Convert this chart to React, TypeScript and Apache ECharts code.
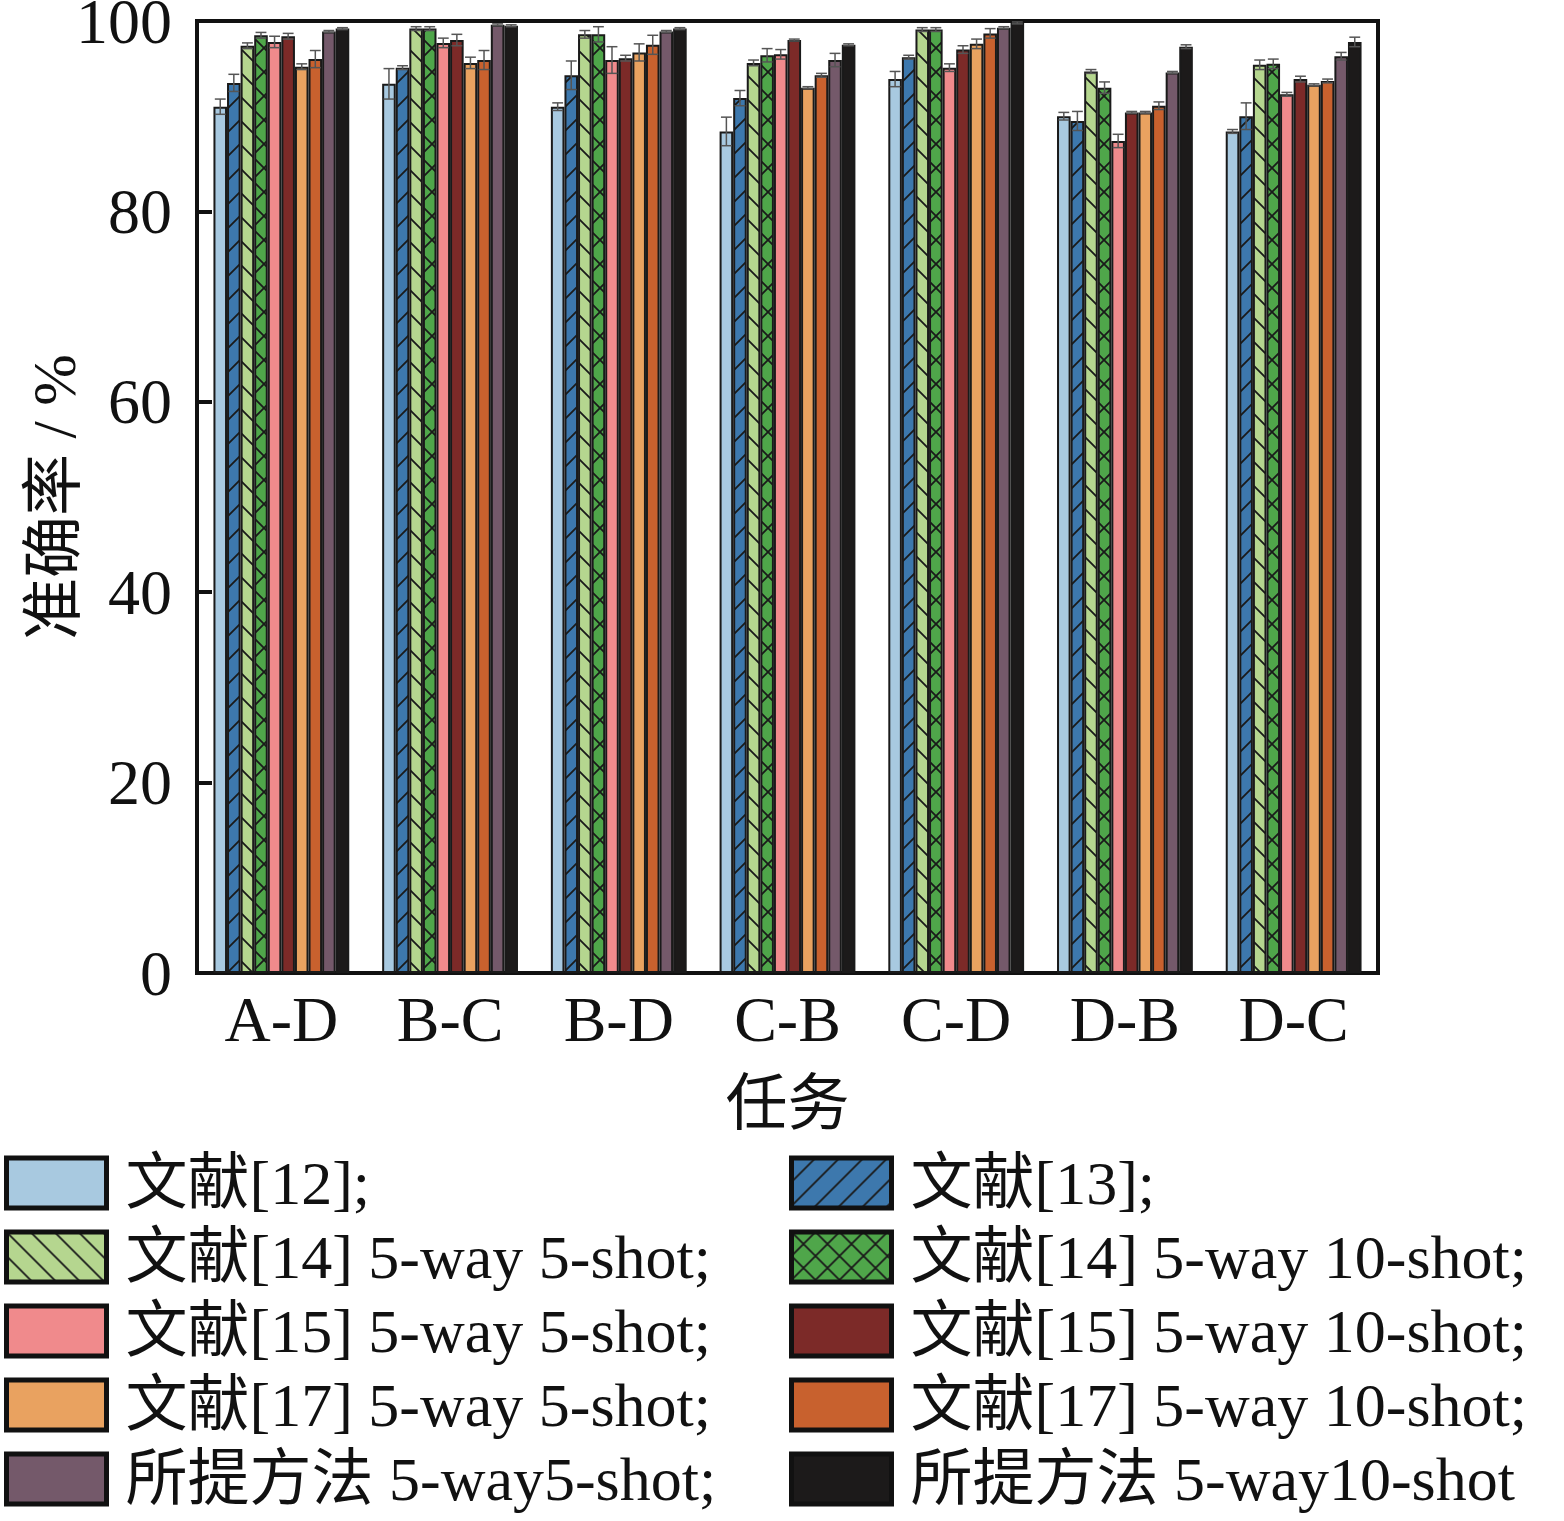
import React, { useEffect, useRef } from "react";
import * as echarts from "echarts";

const categories = ["A-D", "B-C", "B-D", "C-B", "C-D", "D-B", "D-C"];

const seriesNames = [
  "文献[12];",
  "文献[13];",
  "文献[14] 5-way 5-shot;",
  "文献[14] 5-way 10-shot;",
  "文献[15] 5-way 5-shot;",
  "文献[15] 5-way 10-shot;",
  "文献[17] 5-way 5-shot;",
  "文献[17] 5-way 10-shot;",
  "所提方法 5-way5-shot;",
  "所提方法 5-way10-shot",
];

const ref12 = [91.0, 93.4, 91.0, 88.4, 93.9, 90.0, 88.4];
const ref13 = [93.5, 95.1, 94.3, 91.9, 96.2, 89.5, 90.0];
const ref14s5 = [97.4, 99.2, 98.6, 95.6, 99.1, 94.7, 95.4];
const ref14s10 = [98.5, 99.2, 98.6, 96.4, 99.1, 93.0, 95.5];
const ref15s5 = [97.8, 97.7, 95.9, 96.5, 95.1, 87.4, 92.3];
const ref15s10 = [98.4, 98.0, 96.1, 98.0, 97.0, 90.4, 93.9];
const ref17s5 = [95.2, 95.6, 96.7, 93.0, 97.6, 90.4, 93.3];
const ref17s10 = [96.0, 95.9, 97.5, 94.3, 98.7, 91.1, 93.7];
const oursS5 = [98.9, 99.6, 98.9, 95.9, 99.3, 94.6, 96.3];
const oursS10 = [99.2, 99.5, 99.2, 97.5, 99.8, 97.3, 97.8];

const err12 = [0.8, 1.6, 0.4, 1.5, 0.8, 0.4, 0.2];
const err13 = [0.9, 0.2, 1.5, 0.8, 0.2, 1.0, 1.4];
const err14s5 = [0.3, 0.2, 0.4, 0.3, 0.2, 0.2, 0.5];
const err14s10 = [0.3, 0.2, 0.8, 0.7, 0.2, 0.6, 0.5];
const err15s5 = [0.6, 0.5, 1.4, 0.5, 0.4, 0.7, 0.2];
const err15s10 = [0.3, 0.6, 0.3, 0.1, 0.4, 0.1, 0.3];
const err17s5 = [0.3, 0.6, 0.9, 0.1, 0.5, 0.1, 0.1];
const err17s10 = [0.9, 1.0, 1.0, 0.2, 0.5, 0.4, 0.2];
const errOursS5 = [0.1, 0.1, 0.1, 0.7, 0.1, 0.1, 0.4];
const errOursS10 = [0.1, 0.1, 0.1, 0.1, 0.1, 0.2, 0.5];

const yTicks = [0, 20, 40, 60, 80, 100];

const values = [ref12, ref13, ref14s5, ref14s10, ref15s5, ref15s10, ref17s5, ref17s10, oursS5, oursS10];
const errors = [err12, err13, err14s5, err14s10, err15s5, err15s10, err17s5, err17s10, errOursS5, errOursS10];

const colors = [
  "#a8c9e0",
  "#3d78ad",
  "#b5d68f",
  "#4fa64a",
  "#f08a8c",
  "#7c2a28",
  "#e9a260",
  "#c8612e",
  "#74596a",
  "#1c1a1a",
];
const hatchKinds = ["", "/", "\\", "x", "", "", "", "", "", ""];

const CAT_GAP = 0.195;
const FONT = "'Liberation Serif', 'Times New Roman', 'Noto Sans CJK SC', serif";

function makeFill(color: string, kind: string): any {
  if (!kind) return color;
  const s = 24;
  let d = "";
  if (kind === "/" || kind === "x") {
    d += `M0,${s} L${s},0 M-3,3 L3,-3 M${s - 3},${s + 3} L${s + 3},${s - 3} `;
  }
  if (kind === "\\" || kind === "x") {
    d += `M0,0 L${s},${s} M-3,${s - 3} L3,${s + 3} M${s - 3},-3 L${s + 3},3 `;
  }
  const svg = `<svg xmlns="http://www.w3.org/2000/svg" width="${s}" height="${s}"><rect width="${s}" height="${s}" fill="${color}"/><path d="${d}" stroke="#1a1a1a" stroke-width="1.8" fill="none"/></svg>`;
  return {
    image: "data:image/svg+xml;charset=utf-8," + encodeURIComponent(svg),
    repeat: "repeat",
    imageWidth: s,
    imageHeight: s,
  };
}

export default function App() {
  const ref = useRef<HTMLDivElement>(null);
  useEffect(() => {
    if (!ref.current) return;
    const chart = echarts.init(ref.current, null, { renderer: "svg" });

    const nSeries = values.length;
    const barSeries = values.map((vals, i) => ({
      type: "bar",
      name: seriesNames[i],
      data: vals,
      barGap: "0%",
      barCategoryGap: (CAT_GAP * 100).toFixed(1) + "%",
      itemStyle: {
        color: makeFill(colors[i], hatchKinds[i]),
        borderColor: "#1a1a1a",
        borderWidth: 2,
      },
      emphasis: { disabled: true },
    }));

    const errData: number[][] = [];
    values.forEach((vals, s) => {
      vals.forEach((v, c) => {
        errData.push([c, s, v, errors[s][c]]);
      });
    });

    const errSeries = {
      type: "custom",
      name: "err",
      z: 10,
      clip: false,
      silent: true,
      encode: { x: 0, y: 2 },
      data: errData,
      renderItem: (params: any, api: any) => {
        const cat = api.value(0);
        const s = api.value(1);
        const v = api.value(2);
        const e = api.value(3);
        if (!e || e <= 0) return null;
        const center = api.coord([cat, v]);
        const band = api.size([1, 0])[0];
        const groupW = band * (1 - CAT_GAP);
        const bw = groupW / nSeries;
        const x = center[0] - groupW / 2 + (s + 0.5) * bw;
        const yTop = api.coord([cat, v + e])[1];
        const yBot = api.coord([cat, v - e])[1];
        const half = bw * 0.4;
        const st = { stroke: "#555", lineWidth: 1.5 };
        return {
          type: "group",
          children: [
            { type: "line", shape: { x1: x, y1: yTop, x2: x, y2: yBot }, style: st },
            { type: "line", shape: { x1: x - half, y1: yTop, x2: x + half, y2: yTop }, style: st },
            { type: "line", shape: { x1: x - half, y1: yBot, x2: x + half, y2: yBot }, style: st },
          ],
        };
      },
    };

    const legendCommon = {
      orient: "vertical",
      icon: "rect",
      padding: 0,
      itemWidth: 100,
      itemHeight: 50,
      itemGap: 12,
      height: 400,
      selectedMode: false,
      itemStyle: { borderColor: "#111", borderWidth: 5 },
      textStyle: {
        fontFamily: FONT,
        fontSize: 62,
        color: "#111",
        padding: [0, 0, 0, 14],
      },
    };

    chart.setOption({
      animation: false,
      backgroundColor: "#fff",
      textStyle: { fontFamily: FONT },
      grid: {
        left: 197,
        right: 186,
        top: 21,
        bottom: 548,
        show: true,
        borderColor: "#111",
        borderWidth: 4,
        backgroundColor: "transparent",
        outerBoundsMode: "none",
        containLabel: false,
      },
      legend: [
        {
          ...legendCommon,
          left: 4,
          top: 1152,
          data: seriesNames.filter((_, i) => i % 2 === 0),
        },
        {
          ...legendCommon,
          left: 789,
          top: 1152,
          data: seriesNames.filter((_, i) => i % 2 === 1),
        },
      ],
      xAxis: {
        type: "category",
        data: categories,
        name: "任务",
        nameLocation: "middle",
        nameGap: 100,
        nameMoveOverlap: false,
        nameTextStyle: { fontFamily: FONT, fontSize: 62, color: "#111" },
        axisLine: { show: true, lineStyle: { color: "#111", width: 4 } },
        axisTick: { show: false },
        axisLabel: { fontFamily: FONT, fontSize: 64, color: "#111", margin: 14 },
        splitLine: { show: false },
      },
      yAxis: {
        type: "value",
        min: yTicks[0],
        max: yTicks[yTicks.length - 1],
        interval: yTicks[1] - yTicks[0],
        name: "准确率 / %",
        nameLocation: "middle",
        nameGap: 112,
        nameMoveOverlap: false,
        nameRotate: 90,
        nameTextStyle: { fontFamily: FONT, fontSize: 62, color: "#111" },
        axisLine: { show: true, lineStyle: { color: "#111", width: 4 } },
        axisTick: { show: true, inside: true, length: 15, lineStyle: { color: "#111", width: 4 } },
        axisLabel: { fontFamily: FONT, fontSize: 64, lineHeight: 42, color: "#111", margin: 25 },
        splitLine: { show: false },
      },
      series: [...barSeries, errSeries],
    });

    return () => chart.dispose();
  }, []);

  return (
    <div
      ref={ref}
      style={{ position: "absolute", left: 0, top: 0, width: 1564, height: 1521 }}
    />
  );
}
